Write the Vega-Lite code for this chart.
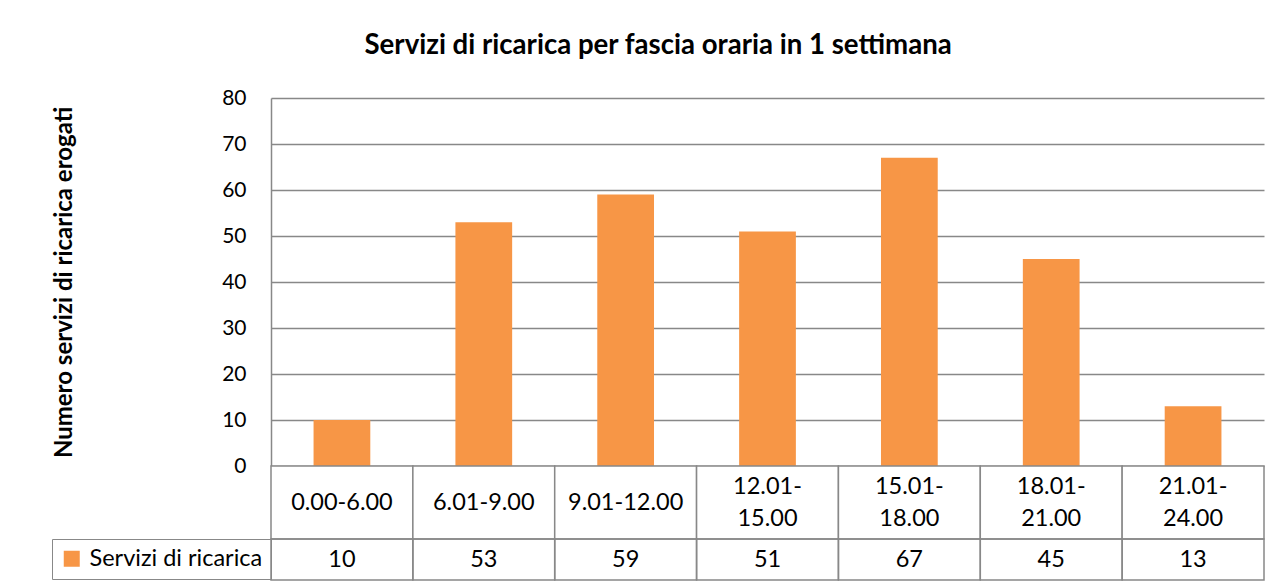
{
  "$schema": "https://vega.github.io/schema/vega-lite/v6.json",
  "background": "white",
  "padding": {"left": 51, "top": 32, "right": 20, "bottom": 8},
  "title": {"text": "Servizi di ricarica per fascia oraria in 1 settimana", "font": "Lato", "fontSize": 27.6, "fontWeight": "bold", "color": "black", "anchor": "middle", "offset": 27},
  "data": {"values": [
    {"fascia": "0.00-6.00", "etichetta": "0.00-6.00", "servizi": 10, "serie": "Servizi di ricarica"},
    {"fascia": "6.01-9.00", "etichetta": "6.01-9.00", "servizi": 53, "serie": "Servizi di ricarica"},
    {"fascia": "9.01-12.00", "etichetta": "9.01-12.00", "servizi": 59, "serie": "Servizi di ricarica"},
    {"fascia": "12.01-15.00", "etichetta": "12.01-\n15.00", "servizi": 51, "serie": "Servizi di ricarica"},
    {"fascia": "15.01-18.00", "etichetta": "15.01-\n18.00", "servizi": 67, "serie": "Servizi di ricarica"},
    {"fascia": "18.01-21.00", "etichetta": "18.01-\n21.00", "servizi": 45, "serie": "Servizi di ricarica"},
    {"fascia": "21.01-24.00", "etichetta": "21.01-\n24.00", "servizi": 13, "serie": "Servizi di ricarica"}
  ]},
  "bounds": "flush",
  "spacing": 0,
  "resolve": {"scale": {"fill": "independent"}, "legend": {"fill": "independent"}},
  "config": {"view": {"stroke": null}, "font": "Lato"},
  "vconcat": [
    {
      "width": 993,
      "height": 368,
      "mark": {"type": "bar", "color": "#F79646"},
      "encoding": {
        "x": {"field": "fascia", "type": "nominal", "sort": null, "axis": null, "scale": {"paddingInner": 0.6, "paddingOuter": 0.3}},
        "y": {"field": "servizi", "type": "quantitative", "scale": {"domain": [0, 80], "nice": false},
          "axis": {"values": [0, 10, 20, 30, 40, 50, 60, 70, 80], "title": "Numero servizi di ricarica erogati", "titleFont": "Lato", "titleFontSize": 24, "titleFontWeight": "bold", "titleColor": "black", "titlePadding": 145, "labelFont": "Lato", "labelFontSize": 21, "labelColor": "black", "labelPadding": 25, "ticks": false, "domainColor": "#888888", "domainWidth": 1.5, "gridColor": "#888888", "gridWidth": 1.5}}
      }
    },
    {
      "width": 993,
      "height": 73,
      "layer": [
        {
          "mark": {"type": "rect", "fill": "white", "stroke": "#888888", "strokeWidth": 1.5},
          "encoding": {"x": {"field": "fascia", "type": "nominal", "sort": null, "axis": null, "scale": {"paddingInner": 0, "paddingOuter": 0}}}
        },
        {
          "transform": [{"filter": "indexof(datum.etichetta, '\\n') < 0"}],
          "mark": {"type": "text", "font": "Lato", "fontSize": 23.5, "color": "black"},
          "encoding": {"x": {"field": "fascia", "type": "nominal", "sort": null, "axis": null}, "text": {"field": "etichetta"}}
        },
        {
          "transform": [{"filter": "indexof(datum.etichetta, '\\n') >= 0"}],
          "mark": {"type": "text", "font": "Lato", "fontSize": 23.5, "lineBreak": "\n", "lineHeight": 32, "dy": -16, "color": "black"},
          "encoding": {"x": {"field": "fascia", "type": "nominal", "sort": null, "axis": null}, "text": {"field": "etichetta"}}
        }
      ]
    },
    {
      "width": 993,
      "height": 41,
      "layer": [
        {
          "mark": {"type": "rect", "stroke": "#888888", "strokeWidth": 1.5, "fillOpacity": 0},
          "encoding": {
            "x": {"field": "fascia", "type": "nominal", "sort": null, "axis": null, "scale": {"paddingInner": 0, "paddingOuter": 0}},
            "fill": {"field": "serie", "type": "nominal", "scale": {"range": ["#F79646"]},
              "legend": {"orient": "left", "title": null, "offset": 0, "padding": 8, "strokeColor": "#888888", "symbolType": "square", "symbolSize": 256, "symbolStrokeWidth": 0, "labelFont": "Lato", "labelFontSize": 23.5, "labelOffset": 6, "labelLimit": 400, "labelColor": "black"}}
          }
        },
        {
          "mark": {"type": "text", "font": "Lato", "fontSize": 23.5, "color": "black"},
          "encoding": {"x": {"field": "fascia", "type": "nominal", "sort": null, "axis": null}, "text": {"field": "servizi"}}
        }
      ]
    }
  ]
}
